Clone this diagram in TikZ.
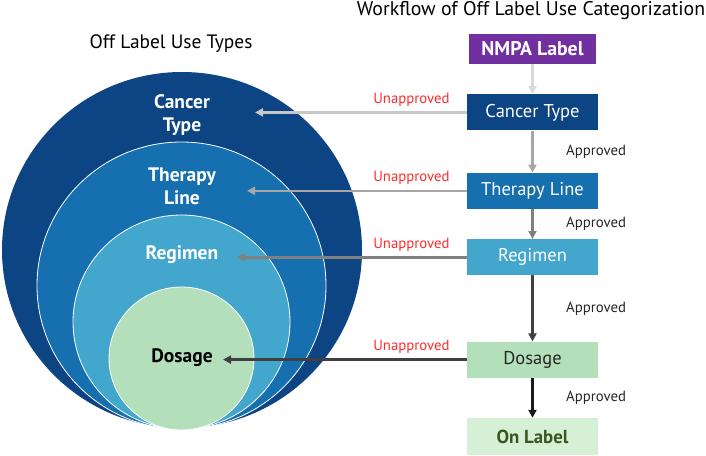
\documentclass[tikz,border=0pt]{standalone}
\usepackage{fontspec}
\setmainfont{PT Sans}
\usepackage{tikz}
\usetikzlibrary{arrows.meta,positioning,calc}
\definecolor{navy}{HTML}{0C4484}
\definecolor{midblue}{HTML}{1670B0}
\definecolor{lightblue}{HTML}{43A6CC}
\definecolor{mint}{HTML}{B3E0BA}
\definecolor{palemint}{HTML}{D6F0D6}
\definecolor{nmpapurple}{HTML}{7030A0}
\definecolor{leafgreen}{HTML}{385723}
\definecolor{flagred}{HTML}{FF2B2B}
\tikzset{
  stepbox/.style={rectangle, minimum width=131pt, minimum height=36pt, inner sep=0pt,
                  font=\fontsize{18.5}{20}\selectfont, text=white},
  ringlabel/.style={align=center, font=\fontsize{19.5}{23}\selectfont\bfseries, text=white},
  ring/.style={draw=white, line width=0.8pt},
  title/.style={font=\fontsize{19.4}{21}\selectfont},
  flow/.style={-{Triangle[length=8pt,width=8pt]}, line width=2.6pt},
  unappr/.style={font=\fontsize{14.8}{15}\selectfont, text=flagred, inner sep=1pt},
  appr/.style={font=\fontsize{14.8}{15}\selectfont, text=black!85, anchor=west, xshift=29pt},
}

\begin{document}
\begin{tikzpicture}[x=1pt, y=-1pt, node distance=30pt]
  \useasboundingbox (0,0) rectangle (706,455);
  % nested use types
  \fill[navy] (182,250) ellipse [x radius=180pt, y radius=178pt];
  \filldraw[ring, fill=midblue] (181.5,285.5) ellipse [x radius=144.5pt, y radius=143.5pt];
  \filldraw[ring, fill=lightblue] (181.5,322) ellipse [x radius=108.5pt, y radius=107pt];
  \filldraw[ring, fill=mint] (181.5,358.5) ellipse [x radius=72.5pt, y radius=71.5pt];
  \node[ringlabel] (lcancer) at (182,115) {Cancer\\Type};
  \node[ringlabel] (ltherapy) at (182,186) {Therapy\\Line};
  \node[ringlabel] (lregimen) at (182,255) {Regimen};
  \node[ringlabel, text=black] (ldosage) at (182,358) {Dosage};
  \node[title] (typestitle) at (171,44) {Off Label Use Types};

  % workflow
  \node[title, font=\fontsize{19.8}{21}\selectfont] (flowtitle) at (531,11) {Workflow of Off Label Use Categorization};
  \node[stepbox, fill=nmpapurple, minimum width=127pt, minimum height=30pt,
        font=\fontsize{19.8}{20}\selectfont\bfseries] (nmpa) at (532.5,49) {NMPA Label};
  \node[stepbox, fill=navy, below=30pt of nmpa] (cancer) {Cancer Type};
  \node[stepbox, fill=midblue, below=42pt of cancer] (therapy) {Therapy Line};
  \node[stepbox, fill=lightblue, below=30pt of therapy] (regimen) {Regimen};
  \node[stepbox, fill=mint, text=black!85, below=66pt of regimen] (dosage) {Dosage};
  \node[stepbox, fill=palemint, text=leafgreen, minimum height=37pt,
        font=\fontsize{18.8}{20}\selectfont\bfseries, below=40pt of dosage] (onlabel) {On Label};

  \draw[flow, black!15] (nmpa) -- (cancer);
  \draw[flow, black!35] (cancer) -- node[appr] {Approved} (therapy);
  \draw[flow, black!50] (therapy) -- node[appr] {Approved} (regimen);
  \draw[flow, black!75] (regimen) -- node[appr] {Approved} (dosage);
  \draw[flow, black!90] (dosage) -- node[appr] {Approved} (onlabel);

  % back to the rings
  \coordinate (tipcancer) at (255,0);
  \coordinate (tiptherapy) at (247,0);
  \coordinate (tipregimen) at (237,0);
  \coordinate (tipdosage) at (223,0);
  \draw[flow, black!22] (cancer.west) -- (cancer.west -| tipcancer);
  \draw[flow, black!35] (therapy.west) -- (therapy.west -| tiptherapy);
  \draw[flow, black!50] (regimen.west) -- (regimen.west -| tipregimen);
  \draw[flow, black!75] (dosage.west) -- (dosage.west -| tipdosage);
  \node[unappr, above left=5pt and 16pt of cancer.west] (ucancer) {Unapproved};
  \node[unappr, above left=5pt and 16pt of therapy.west] (utherapy) {Unapproved};
  \node[unappr, above left=5pt and 16pt of regimen.west] (uregimen) {Unapproved};
  \node[unappr, above left=5pt and 16pt of dosage.west] (udosage) {Unapproved};
\end{tikzpicture}
\end{document}
